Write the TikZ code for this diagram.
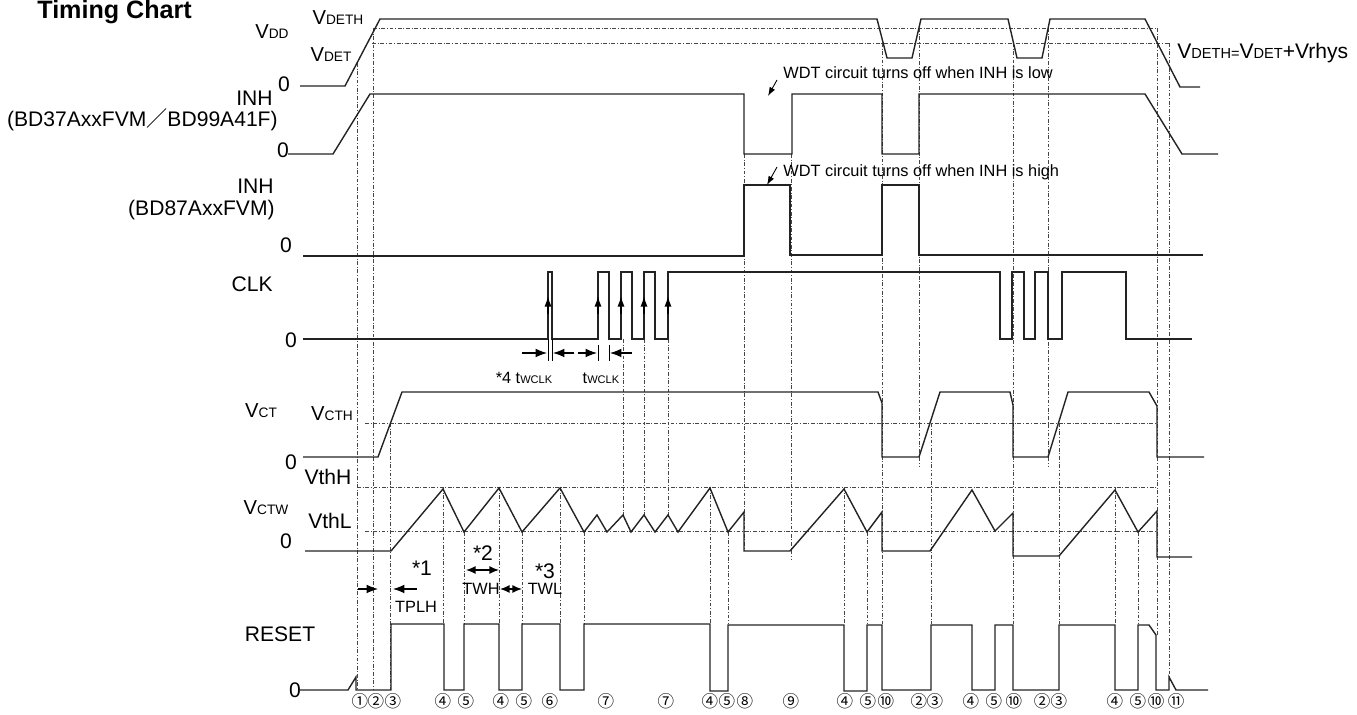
\documentclass[tikz,border=0pt]{standalone}
\usepackage{fontspec}
\setmainfont{Liberation Sans}
\newfontfamily\cjkfont{Noto Sans CJK JP}
\usetikzlibrary{arrows.meta}
\definecolor{waveblack}{RGB}{35,35,35}
\definecolor{guidegray}{RGB}{70,70,70}
\newcommand\sub[2][7.8]{{\fontsize{#1}{#1}\selectfont #2}}

\begin{document}
\begin{tikzpicture}[
  x=0.02cm, y=-0.02cm,
  wave/.style={line width=0.8pt, draw=waveblack, line join=miter},
  guide/.style={line width=0.35pt, draw=guidegray, dash pattern=on 2.2pt off 1pt on 0.5pt off 1pt},
  lbl/.style={inner sep=0pt, font=\fontsize{12}{14}\selectfont},
  vlbl/.style={inner sep=0pt, font=\fontsize{11.5}{13}\selectfont},
  notetext/.style={inner sep=0pt, font=\fontsize{9.3}{11}\selectfont},
  numlbl/.style={inner sep=0pt, font=\cjkfont\fontsize{9.4}{10}\selectfont},
  pointer/.style={-{Latex[length=5pt,width=3.5pt]}, line width=0.5pt},
  markarrow/.style={-{Latex[length=6.5pt,width=5pt]}, line width=0.6pt},
  edgetip/.style={-{Latex[length=6pt,width=4pt]}, line width=0.8pt},
  spanarrow/.style={{Latex[length=5.5pt,width=4.6pt]}-{Latex[length=5.5pt,width=4.6pt]}, line width=0.8pt}
]
  \useasboundingbox (0,0) rectangle (1357,715);

  % Title
  \node[anchor=base west, inner sep=0pt, font=\bfseries\fontsize{14.3}{16}\selectfont] (title) at (37,19) {Timing Chart};

  % Threshold levels
  \draw[guide] (373,28) -- (1157,28);
  \draw[guide] (372,43) -- (1169,43);
  \draw[guide] (365,423) -- (1157,423);
  \draw[guide] (357,487) -- (1157,487);
  \draw[guide] (365,531) -- (1157,531);

  % Timing guides
  \foreach \x/\a/\b in {357/63/690, 373/28/690, 390/423/690, 443/487/624, 464/532/624,
      499/487/624, 522/532/624, 560/487/624, 584/532/624, 623/339/515, 644/339/515,
      668/339/515, 710/487/624, 728/532/624, 744/154/551, 791/154/560, 844/487/624,
      867/532/624, 882/43/624, 919/28/467, 931/423/624, 1013/43/624, 1048/28/467,
      1059/423/624, 1115/487/624, 1138/532/624, 1157/28/635, 1169/43/677}
    \draw[guide] (\x,\a) -- (\x,\b);

  % VDD
  \node[vlbl] (vdd) at (272,32) {V\sub{DD}};
  \node[vlbl] (vdeth) at (338,18) {V\sub{DETH}};
  \node[vlbl] (vdet) at (331,55) {V\sub{DET}};
  \node[lbl] (vddzero) at (284,84) {0};
  \draw[wave] (300,86) -- (345,86) -- (380,19) -- (877,19) -- (887,58) -- (912,58) -- (921,19)
    -- (1008,19) -- (1017,58) -- (1042,58) -- (1050,19) -- (1145,19) -- (1180,87) -- (1200,87);
  \node[lbl, anchor=west] (vdethdef) at (1177,53) {V\sub[8.3]{DETH=}V\sub[8.3]{DET}+Vrhys};

  % INH (BD37AxxFVM / BD99A41F)
  \node[lbl, anchor=east] (inha) at (273,98) {INH};
  \node[lbl, anchor=east] (inhapart) at (278,120) {(BD37AxxFVM{\cjkfont ／}BD99A41F)};
  \node[lbl] (inhazero) at (283,150) {0};
  \draw[wave] (288,154) -- (333,154) -- (370,94) -- (744,94) -- (744,154) -- (792,154) -- (792,94)
    -- (882,94) -- (882,154) -- (919,154) -- (919,94) -- (1145,94) -- (1182,154) -- (1218,154);
  \node[notetext, anchor=west] (wdtlow) at (783,73) {WDT circuit turns off when INH is low};
  \draw[pointer] (777,80) -- (768,96);

  % INH (BD87AxxFVM)
  \node[lbl, anchor=east] (inhb) at (274,186) {INH};
  \node[lbl, anchor=east] (inhbpart) at (275,210) {(BD87AxxFVM)};
  \node[lbl] (inhbzero) at (286,245) {0};
  \draw[wave] (303,256) -- (744,256) -- (744,185) -- (790,185) -- (790,255) -- (882,255) -- (882,185)
    -- (919,185) -- (919,255) -- (1203,255);
  \node[notetext, anchor=west] (wdthigh) at (783,172) {WDT circuit turns off when INH is high};
  \draw[pointer] (777,167) -- (767,185);

  % CLK
  \node[lbl, anchor=east] (clk) at (273,284) {CLK};
  \node[lbl] (clkzero) at (291,340) {0};
  \draw[wave] (303,339) -- (548,339) -- (548,272) -- (552,272) -- (552,339) -- (598,339) -- (598,272)
    -- (609,272) -- (609,339) -- (621,339) -- (621,272) -- (632,272) -- (632,339) -- (644,339)
    -- (644,272) -- (655,272) -- (655,339) -- (668,339) -- (668,272) -- (1000,272) -- (1000,339)
    -- (1012,339) -- (1012,272) -- (1024,272) -- (1024,339) -- (1035,339) -- (1035,272)
    -- (1048,272) -- (1048,339) -- (1062,339) -- (1062,272) -- (1126,272) -- (1126,339) -- (1192,339);
  \foreach \x in {548,598,621,644,668}
    \draw[edgetip] (\x,314) -- (\x,296);
  \draw[line width=0.5pt] (548,339) -- (548,361) (552,339) -- (552,361)
    (598,345) -- (598,361) (609,345) -- (609,361);
  \draw[markarrow] (522,353) -- (547,353);
  \draw[markarrow] (574,353) -- (553,353);
  \draw[markarrow] (578,353) -- (597,353);
  \draw[markarrow] (632,353) -- (610,353);
  \node[notetext] (twclka) at (524,378) {*4 t\sub[6.3]{WCLK}};
  \node[notetext] (twclkb) at (601,378) {t\sub[6.3]{WCLK}};

  % VCT
  \node[vlbl] (vct) at (261,411) {V\sub{CT}};
  \node[vlbl] (vcth) at (332,414) {V\sub{CTH}};
  \node[lbl] (vctzero) at (291,462) {0};
  \node[lbl] (vthh) at (328,477) {VthH};
  \draw[wave] (303,457) -- (378,457) -- (402,392) -- (878,392) -- (882,403) -- (882,457) -- (919,457)
    -- (940,392) -- (1010,392) -- (1013,405) -- (1013,457) -- (1048,457) -- (1068,392) -- (1149,392)
    -- (1157,406) -- (1157,457) -- (1204,457);

  % VCTW
  \node[vlbl] (vctw) at (266,508) {V\sub{CTW}};
  \node[lbl] (vthl) at (330,521) {VthL};
  \node[lbl] (vctwzero) at (286,541) {0};
  \draw[wave] (305,551) -- (391,551) -- (443,489) -- (464,532) -- (499,488) -- (522,532) -- (560,488)
    -- (584,532) -- (597,515) -- (607,532) -- (623,515) -- (631,532) -- (644,515) -- (655,532)
    -- (668,515) -- (678,532) -- (710,488) -- (728,532) -- (744,512) -- (744,551) -- (790,551)
    -- (844,489) -- (867,532) -- (882,512) -- (882,551) -- (930,551) -- (972,490) -- (995,531)
    -- (1013,513) -- (1013,556) -- (1059,556) -- (1115,490) -- (1138,532) -- (1157,511)
    -- (1157,557) -- (1192,557);

  % Watchdog timing marks
  \node[lbl] (starone) at (422,568) {*1};
  \draw[markarrow] (358,589) -- (378,589);
  \draw[markarrow] (417,589) -- (393,589);
  \node[notetext] (tplh) at (416,607) {TPLH};
  \node[lbl] (startwo) at (483,553) {*2};
  \draw[spanarrow] (466,570) -- (499,570);
  \node[notetext] (twh) at (481,589) {TWH};
  \draw[spanarrow] (500,589) -- (522,589);
  \node[lbl] (starthree) at (545,571) {*3};
  \node[notetext] (twl) at (545,589) {TWL};

  % RESET
  \node[lbl] (reset) at (280,634) {RESET};
  \node[lbl] (resetzero) at (295,690) {0};
  \draw[wave] (300,690) -- (348,690) -- (356,677) -- (356,690) -- (391,690) -- (391,624) -- (444,624)
    -- (444,690) -- (464,690) -- (464,624) -- (499,624) -- (499,690) -- (522,690) -- (522,624)
    -- (560,624) -- (560,690) -- (584,690) -- (584,624) -- (710,624) -- (710,691) -- (728,691)
    -- (728,625) -- (844,625) -- (844,691) -- (867,691) -- (867,625) -- (882,625) -- (882,690)
    -- (931,690) -- (931,625) -- (972,625) -- (972,690) -- (995,690) -- (995,625) -- (1013,625)
    -- (1013,690) -- (1059,690) -- (1059,625) -- (1115,625) -- (1115,690) -- (1138,690)
    -- (1138,625) -- (1149,625) -- (1156,635) -- (1156,690) -- (1169,690) -- (1169,677)
    -- (1176,690) -- (1208,690);

  % Event numbers
  \foreach \x/\n [count=\i] in {360/①, 376/②, 393/③, 443/④, 466/⑤, 501/④, 524/⑤, 550/⑥,
      606/⑦, 666/⑦, 710/④, 727/⑤, 745/⑧, 791/⑨, 845/④, 868/⑤, 886/⑩, 919/②, 935/③,
      971/④, 994/⑤, 1014/⑩, 1042/②, 1059/③, 1115/④, 1138/⑤, 1156/⑩, 1176/⑪}
    \node[numlbl] (mark\i) at (\x,701) {\n};
\end{tikzpicture}
\end{document}
